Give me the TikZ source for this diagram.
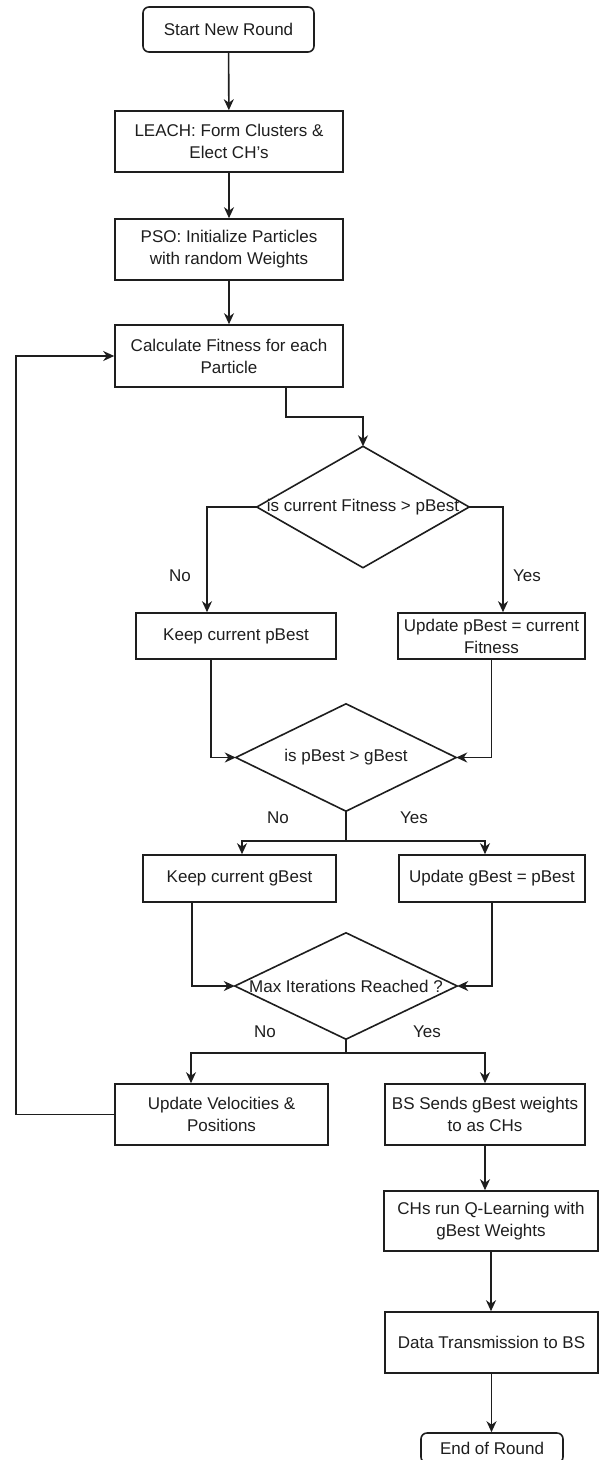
\documentclass[tikz,border=0pt]{standalone}
\usepackage{fontspec}
\setmainfont{Liberation Sans}
\usetikzlibrary{arrows.meta,calc}
\definecolor{ink}{HTML}{1E1E1E}
\begin{document}
\begin{tikzpicture}[x=1pt,y=-1pt,
  every node/.style={font=\fontsize{17}{22}\selectfont, text=ink},
  box/.style={draw=ink, line width=1.6pt, rectangle, align=center, inner sep=0pt},
  term/.style={box, rounded corners=6pt},
  dia/.style={draw=none, inner sep=0pt, align=center},
  arr/.style={draw=ink, line width=1.6pt, -{Stealth[length=11pt,width=10pt,inset=3.5pt]}},
  ln/.style={draw=ink, line width=1.6pt},
  lbl/.style={inner sep=0pt}]
\useasboundingbox (0,0) rectangle (599,1460);
\fill[white] (0,0) rectangle (599,1460);

% nodes
\node[term, minimum width=171, minimum height=45] (start) at (228.5,29.5) {Start New Round};
\node[box, minimum width=228, minimum height=61] (leach) at (229,141.5) {LEACH: Form Clusters \&\\Elect CH's};
\node[box, minimum width=228, minimum height=61] (pso) at (229,249.5) {PSO: Initialize Particles\\with random Weights};
\node[box, minimum width=228, minimum height=62] (calc) at (229,356) {Calculate Fitness for each\\Particle};

\node[dia, minimum width=212, minimum height=121] (d1) at (363,507) {is current Fitness > pBest};
\draw[ln] (d1.north) -- (d1.east) -- (d1.south) -- (d1.west) -- cycle;

\node[box, minimum width=200, minimum height=46] (kp) at (236,636) {Keep current pBest};
\node[box, minimum width=187, minimum height=46] (up) at (491.5,636) {Update pBest = current\\Fitness};

\node[dia, minimum width=220, minimum height=107] (d2) at (346,757.5) {is pBest > gBest};
\draw[ln] (d2.north) -- (d2.east) -- (d2.south) -- (d2.west) -- cycle;

\node[box, minimum width=193, minimum height=47] (kg) at (239.5,878.5) {Keep current gBest};
\node[box, minimum width=186, minimum height=47] (ug) at (492,878.5) {Update gBest = pBest};

\node[dia, minimum width=222, minimum height=106] (d3) at (346,986) {Max Iterations Reached ?};
\draw[ln] (d3.north) -- (d3.east) -- (d3.south) -- (d3.west) -- cycle;

\node[box, minimum width=213, minimum height=61] (uv) at (221.5,1114.5) {Update Velocities \&\\Positions};
\node[box, minimum width=200, minimum height=61] (bs) at (485,1114.5) {BS Sends gBest weights\\to as CHs};
\node[box, minimum width=214, minimum height=60] (chs) at (491,1221) {CHs run Q-Learning with\\gBest Weights};
\node[box, minimum width=213, minimum height=61] (data) at (491.5,1342.5) {Data Transmission to BS};
\node[term, minimum width=142, minimum height=30] (end) at (492,1448) {End of Round};

% labels
\node[lbl] (n1) at (180,576) {No};
\node[lbl] (y1) at (527,576) {Yes};
\node[lbl] (n2) at (278,818) {No};
\node[lbl] (y2) at (414,818) {Yes};
\node[lbl] (n3) at (265,1032) {No};
\node[lbl] (y3) at (427,1032) {Yes};

% connectors
\draw[arr] (start) -- (leach);
\draw[arr] (leach) -- (pso);
\draw[arr] (pso) -- (calc);
\draw[arr] ([xshift=57]calc.south) -- ++(0,29) -| (d1.north);

\draw[arr] (d1.west) -| ([xshift=-29]kp.north);
\draw[arr] (d1.east) -| ([xshift=11.5]up.north);

\draw[arr] ([xshift=-25]kp.south) |- (d2.west);
\draw[arr] (up.south) |- (d2.east);

\draw[arr] (d2.south) -- ++(0,30) -| ([xshift=2.5]kg.north);
\draw[arr] (d2.south) -- ++(0,30) -| ([xshift=-7]ug.north);

\draw[arr] ([xshift=-47.5]kg.south) |- (d3.west);
\draw[arr] (ug.south) |- (d3.east);

\draw[arr] (d3.south) -- ++(0,14) -| ([xshift=-30.5]uv.north);
\draw[arr] (d3.south) -- ++(0,14) -| (bs.north);

\coordinate (lp) at (16,0);
\draw[arr] (uv.west) -- (uv.west -| lp) -- (lp |- calc.west) -- (calc.west);

\draw[arr] (bs.south) -- (bs.south |- chs.north);
\draw[arr] (chs.south) -- (chs.south |- data.north);
\draw[arr] (data.south) -- (data.south |- end.north);
\end{tikzpicture}
\end{document}
